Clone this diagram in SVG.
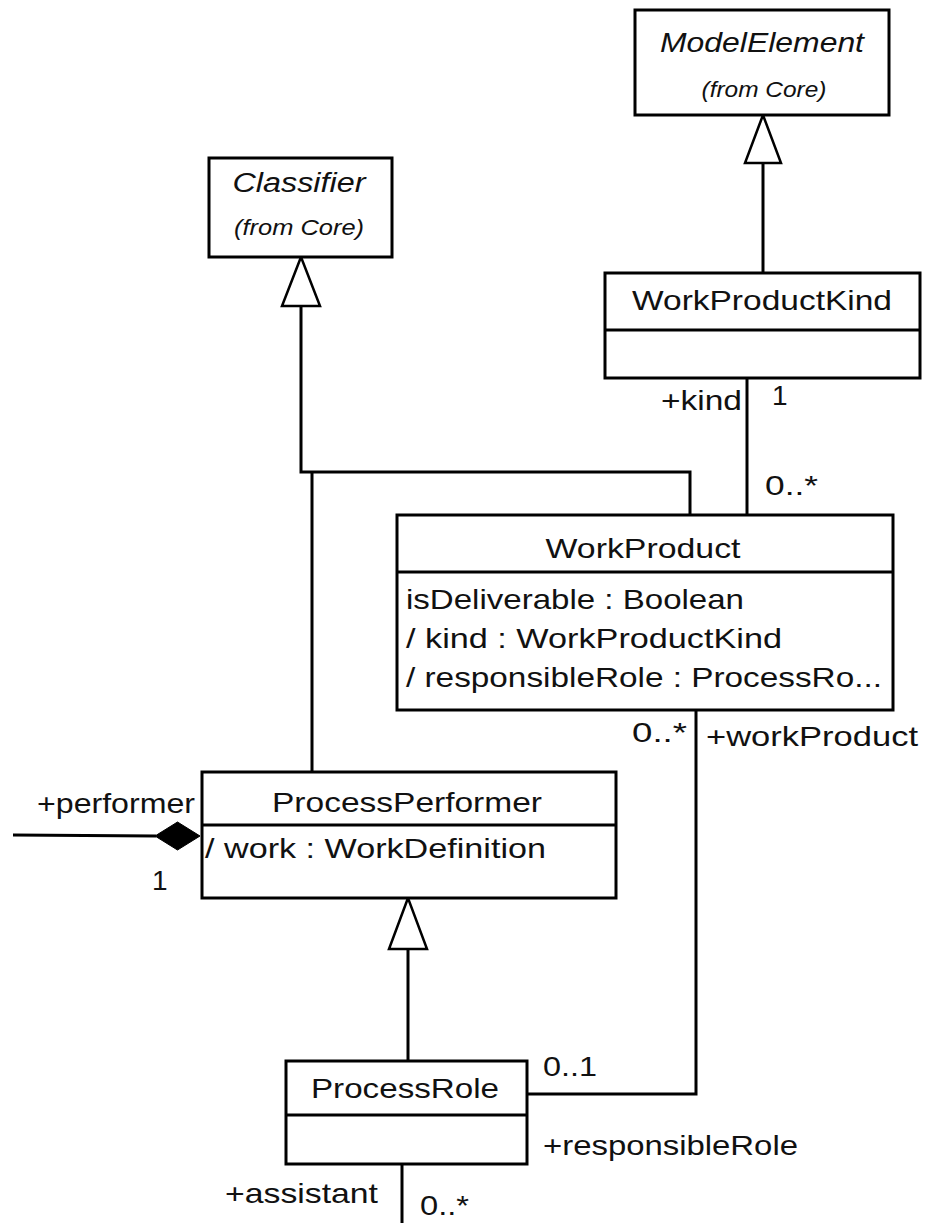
<svg xmlns="http://www.w3.org/2000/svg" width="927" height="1223" viewBox="0 0 927 1223">
<style>
  .box { fill: #ffffff; stroke: #000000; stroke-width: 3; }
  .div { stroke: #000000; stroke-width: 3; }
  .conn { fill: none; stroke: #000000; stroke-width: 3; }
  .tri { fill: #ffffff; stroke: #000000; stroke-width: 2.5; stroke-linejoin: miter; }
  .dia { fill: #000000; stroke: #000000; stroke-width: 1; }
  text { font-family: "Liberation Sans", Arial, sans-serif; fill: #111111; }
  .t { font-size: 28px; }
  .it { font-size: 27px; font-style: italic; }
  .from { font-size: 22px; font-style: italic; }
  .lbl { font-size: 28px; }
  .mid { text-anchor: middle; }
</style>
<rect width="927" height="1223" fill="#ffffff"/>

<g id="connectors">
  <!-- WorkProductKind to ModelElement generalization -->
  <line class="conn" x1="763" y1="163" x2="763" y2="273"/>
  <polygon class="tri" points="763,115 745,163 781,163"/>
  <!-- WorkProduct to Classifier generalization -->
  <polyline class="conn" points="690,515 690,472 301,472 301,306"/>
  <line class="conn" x1="312" y1="472" x2="312" y2="772"/>
  <polygon class="tri" points="301,257 282,306 320,306"/>
  <!-- WorkProduct - WorkProductKind association -->
  <line class="conn" x1="747" y1="378" x2="747" y2="515"/>
  <!-- ProcessRole to ProcessPerformer generalization -->
  <line class="conn" x1="408" y1="949" x2="408" y2="1061"/>
  <polygon class="tri" points="408,898 389,949 427,949"/>
  <!-- WorkProduct - ProcessRole association -->
  <polyline class="conn" points="696,710 696,1094 527,1094"/>
  <!-- performer composition -->
  <line class="conn" x1="13" y1="835" x2="156" y2="836"/>
  <polygon class="dia" points="155,836 177.5,822 200,836 177.5,850"/>
  <!-- assistant association -->
  <line class="conn" x1="402" y1="1164" x2="402" y2="1223"/>

  <text class="lbl" x="661" y="410" textLength="81" lengthAdjust="spacingAndGlyphs">+kind</text>
  <text class="lbl" x="772" y="405">1</text>
  <text class="lbl" x="765" y="495" textLength="53" lengthAdjust="spacingAndGlyphs">0..*</text>
  <text class="lbl" x="632" y="742" textLength="55" lengthAdjust="spacingAndGlyphs">0..*</text>
  <text class="lbl" x="706" y="746" textLength="212" lengthAdjust="spacingAndGlyphs">+workProduct</text>
  <text class="lbl" x="37" y="813" textLength="158" lengthAdjust="spacingAndGlyphs">+performer</text>
  <text class="lbl" x="152" y="890">1</text>
  <text class="lbl" x="543" y="1076" textLength="54" lengthAdjust="spacingAndGlyphs">0..1</text>
  <text class="lbl" x="543" y="1155" textLength="255" lengthAdjust="spacingAndGlyphs">+responsibleRole</text>
  <text class="lbl" x="225" y="1203" textLength="153" lengthAdjust="spacingAndGlyphs">+assistant</text>
  <text class="lbl" x="420" y="1215" textLength="49" lengthAdjust="spacingAndGlyphs">0..*</text>
</g>

<g id="ModelElement">
  <rect class="box" x="635" y="10" width="254" height="105"/>
  <text class="it mid" x="762" y="52" textLength="204" lengthAdjust="spacingAndGlyphs">ModelElement</text>
  <text class="from mid" x="764" y="97" textLength="125" lengthAdjust="spacingAndGlyphs">(from Core)</text>
</g>

<g id="Classifier">
  <rect class="box" x="209" y="158" width="183" height="99"/>
  <text class="it mid" x="299" y="192" textLength="133" lengthAdjust="spacingAndGlyphs">Classifier</text>
  <text class="from mid" x="299" y="235" textLength="130" lengthAdjust="spacingAndGlyphs">(from Core)</text>
</g>

<g id="WorkProductKind">
  <rect class="box" x="605" y="273" width="315" height="105"/>
  <line class="div" x1="605" y1="330" x2="920" y2="330"/>
  <text class="t mid" x="762" y="310" textLength="260" lengthAdjust="spacingAndGlyphs">WorkProductKind</text>
</g>

<g id="WorkProduct">
  <rect class="box" x="397" y="515" width="496" height="195"/>
  <line class="div" x1="397" y1="572" x2="893" y2="572"/>
  <text class="t mid" x="643" y="558" textLength="195" lengthAdjust="spacingAndGlyphs">WorkProduct</text>
  <text class="t" x="406" y="609" textLength="338" lengthAdjust="spacingAndGlyphs">isDeliverable : Boolean</text>
  <text class="t" x="406" y="648" textLength="376" lengthAdjust="spacingAndGlyphs">/ kind : WorkProductKind</text>
  <text class="t" x="406" y="687" textLength="476" lengthAdjust="spacingAndGlyphs">/ responsibleRole : ProcessRo...</text>
</g>

<g id="ProcessPerformer">
  <rect class="box" x="202" y="772" width="414" height="126"/>
  <line class="div" x1="202" y1="825" x2="616" y2="825"/>
  <text class="t mid" x="407" y="812" textLength="270" lengthAdjust="spacingAndGlyphs">ProcessPerformer</text>
  <text class="t" x="205" y="858" textLength="341" lengthAdjust="spacingAndGlyphs">/ work : WorkDefinition</text>
</g>

<g id="ProcessRole">
  <rect class="box" x="286" y="1061" width="241" height="103"/>
  <line class="div" x1="286" y1="1115" x2="527" y2="1115"/>
  <text class="t mid" x="405" y="1098" textLength="188" lengthAdjust="spacingAndGlyphs">ProcessRole</text>
</g>
</svg>
